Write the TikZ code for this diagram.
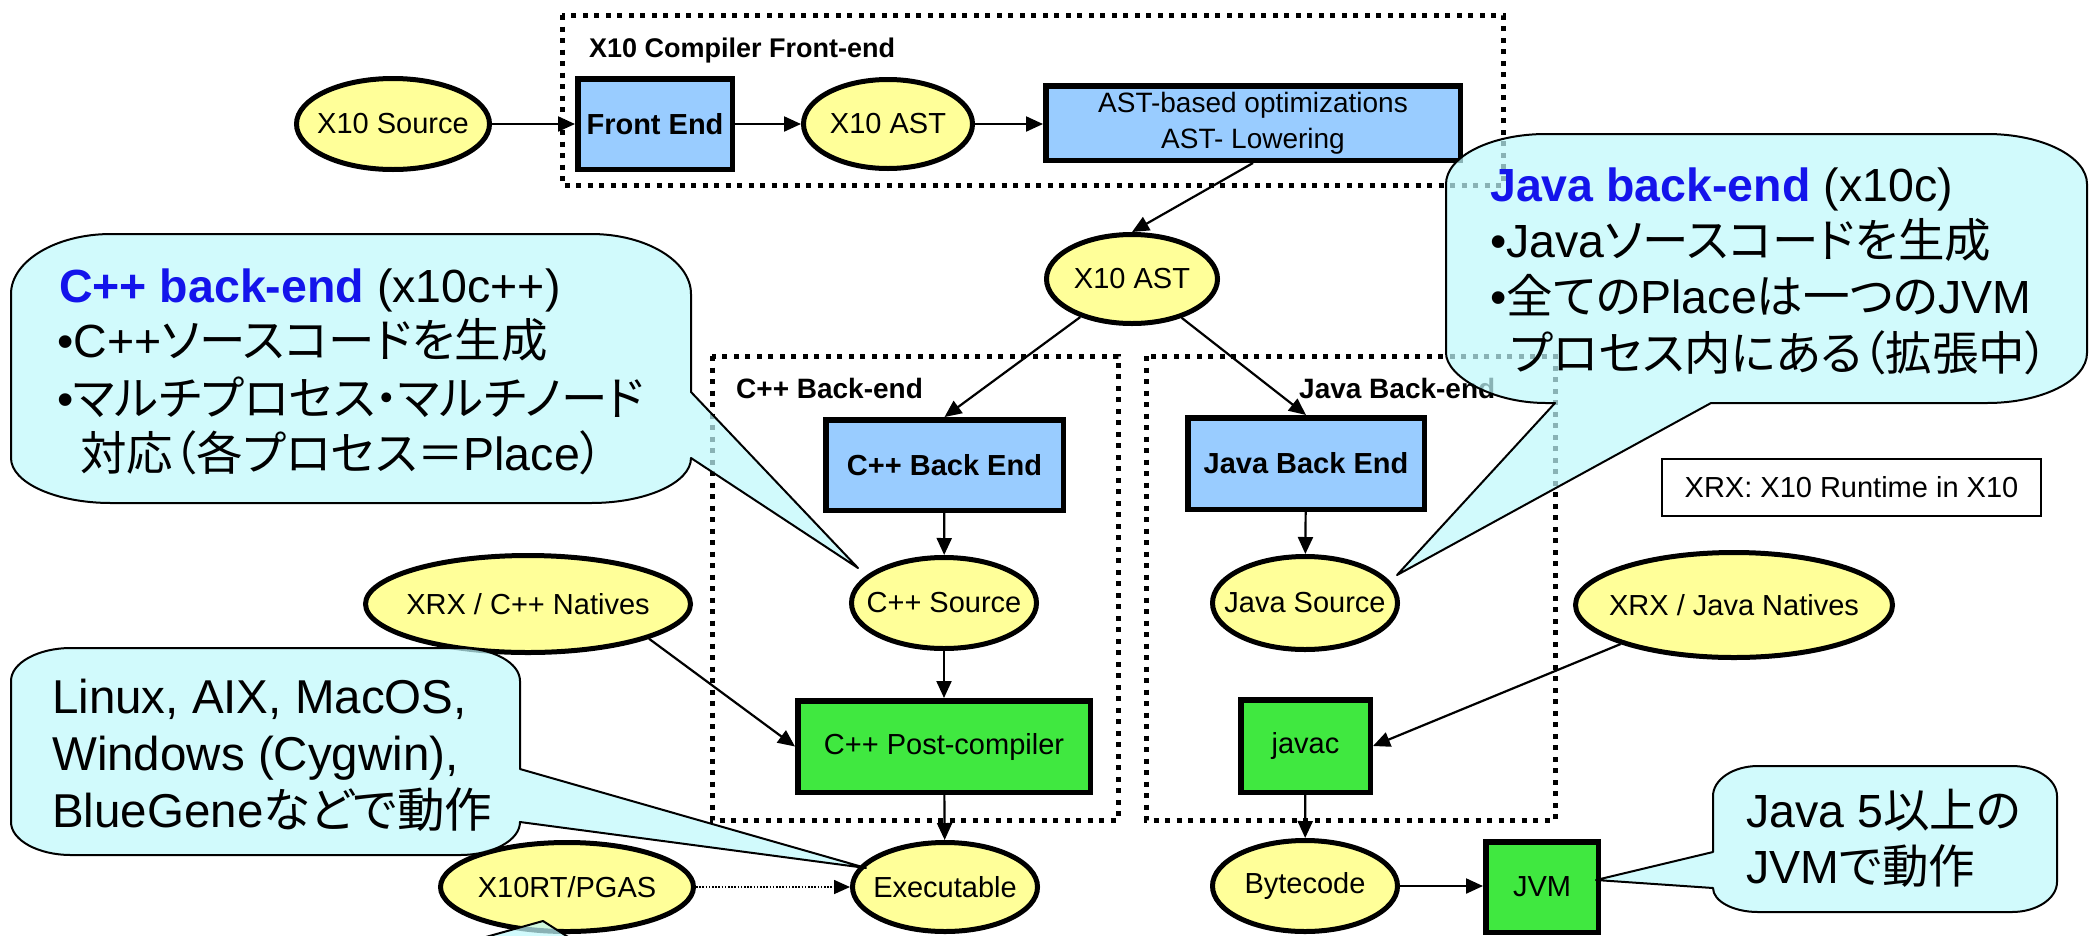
\documentclass[tikz,border=0pt]{standalone}
\usepackage{fontspec}
\setmainfont{Liberation Sans}
\newfontfamily\jpfont[RawFeature=+palt]{Noto Sans CJK JP}
\newcommand\jp[1]{{\jpfont #1}}
\newcommand\cz[1]{\makebox[0pt][c]{#1}}
\usetikzlibrary{shapes.geometric,arrows.meta}
\definecolor{ellfill}{RGB}{255,255,153}
\definecolor{bluefill}{RGB}{153,204,255}
\definecolor{greenfill}{RGB}{64,232,64}
\definecolor{callfill}{RGB}{191,248,251}
\definecolor{titleblue}{RGB}{20,20,235}
\begin{document}
\begin{tikzpicture}[x=1pt,y=-1pt,
  ell/.style={ellipse, draw, line width=5pt, fill=ellfill, inner sep=0pt,
    font=\fontsize{29}{34}\selectfont},
  bbox/.style={rectangle, draw, line width=5.5pt, fill=bluefill, inner sep=0pt,
    align=center, font=\bfseries\fontsize{29}{34}\selectfont},
  gbox/.style={rectangle, draw, line width=5.5pt, fill=greenfill, inner sep=0pt,
    font=\fontsize{29}{34}\selectfont},
  frame/.style={line width=5pt, dash pattern=on 5pt off 6.5pt},
  conn/.style={line width=2.2pt, -{Triangle[length=17pt,width=15pt]}},
  dotconn/.style={line width=1.6pt, dash pattern=on 1.6pt off 1.6pt,
    -{Triangle[length=16pt,width=14pt]}},
  callout/.style={draw, line width=2pt, fill=callfill, fill opacity=0.72, line join=round},
  ctext/.style={anchor=base west, inner sep=0pt, font=\fontsize{46.5}{56}\selectfont},
  grouplabel/.style={anchor=base west, inner sep=0pt, font=\bfseries\fontsize{27}{32}\selectfont},
]
\useasboundingbox (0,0) rectangle (2098,935);

% dotted group frames
\draw[frame] (562,15) rectangle (1503,185);
\draw[frame] (712,356) rectangle (1118,820);
\draw[frame] (1146,356) rectangle (1555,820);
\node[grouplabel] (lfront) at (589,57) {X10 Compiler Front-end};
\node[grouplabel, font=\bfseries\fontsize{28}{32}\selectfont] (lcpp) at (736,398) {C++ Back-end};
\node[grouplabel, font=\bfseries\fontsize{28}{32}\selectfont] (ljava) at (1299,398) {Java Back-end};

% front end
\node[ell, minimum width=193, minimum height=91] (src) at (393,124) {\cz{X10 Source}};
\node[bbox, minimum width=154.5, minimum height=90.5] (fe) at (655,124) {Front End};
\node[ell, minimum width=169, minimum height=89] (ast1) at (888,124) {\cz{X10 AST}};
\node[bbox, font=\fontsize{28}{36}\selectfont, minimum width=414.5, minimum height=74.5] (opt) at (1253,123)
  {AST-based optimizations\\AST- Lowering};

% back ends
\node[ell, minimum width=171, minimum height=89] (ast2) at (1132,279) {\cz{X10 AST}};
\node[bbox, minimum width=237.5, minimum height=90.5] (cppbe) at (944.5,465) {C++ Back End};
\node[bbox, minimum width=236.5, minimum height=91.5] (javabe) at (1306,463.5) {Java Back End};
\node[ell, minimum width=185, minimum height=91] (cppsrc) at (944,603) {\cz{C++ Source}};
\node[ell, minimum width=185, minimum height=93] (javasrc) at (1305,603) {\cz{Java Source}};
\node[ell, minimum width=325, minimum height=97] (natcpp) at (528,604) {\cz{XRX / C++ Natives}};
\node[ell, minimum width=317, minimum height=105] (natjava) at (1734,605) {\cz{XRX / Java Natives}};
\node[gbox, minimum width=292.5, minimum height=91.5] (cpppc) at (944,746.5) {C++ Post-compiler};
\node[gbox, minimum width=129.5, minimum height=92.5] (javac) at (1305.5,746) {javac};
\node[ell, minimum width=185, minimum height=89] (exe) at (945,887) {\cz{Executable}};
\node[ell, minimum width=185, minimum height=91] (byte) at (1305,886) {\cz{Bytecode}};
\node[gbox, minimum width=112.5, minimum height=90.5] (jvm) at (1542,887) {JVM};
\node[ell, minimum width=253, minimum height=89] (rt) at (567,887) {\cz{X10RT/PGAS}};
\node[draw, line width=2pt, inner sep=0pt, minimum width=379, minimum height=57,
  font=\fontsize{29}{34}\selectfont] (xrx) at (1851.5,487.5) {XRX: X10 Runtime in X10};

% connectors
\draw[conn] (src) -- (fe);
\draw[conn] (fe) -- (ast1);
\draw[conn] (ast1) -- (ast1 -| opt.west);
\draw[conn] (opt.south) -- (ast2.north);
\draw[conn] (ast2) -- (cppbe.north);
\draw[conn] (ast2) -- (javabe.north);
\draw[conn] (cppbe) -- (cppsrc);
\draw[conn] (javabe) -- (javasrc);
\draw[conn] (cppsrc) -- (cpppc);
\draw[conn] (natcpp.-16) -- (cpppc.west);
\draw[conn] (natjava.199) -- (javac.east);
\draw[conn] (cpppc) -- (exe);
\draw[conn] (javac) -- (byte);
\draw[conn] (byte) -- (byte -| jvm.west);
\draw[dotconn] (rt) -- (exe);

% callouts (rounded bodies with pointed wedges)
\draw[callout] (858,568) -- (691,458)
  .. controls (691,482.75) and (646,503) .. (591,503) -- (111,503)
  .. controls (56,503) and (11,482.75) .. (11,458) -- (11,294)
  .. controls (11,261) and (56,234) .. (111,234) -- (591,234)
  .. controls (646,234) and (691,261) .. (691,294) -- (691,392) -- cycle;
\draw[callout] (1397,575) -- (1555,403) -- (1546,403)
  .. controls (1491,403) and (1446,375.5) .. (1446,353) -- (1446,184)
  .. controls (1446,156.5) and (1491,134) .. (1546,134) -- (1987,134)
  .. controls (2042,134) and (2087,156.5) .. (2087,184) -- (2087,353)
  .. controls (2087,380.5) and (2042,403) .. (1987,403) -- (1711,403) -- cycle;
\draw[callout] (866,868) -- (520,822)
  .. controls (520,840.15) and (493,855) .. (460,855) -- (71,855)
  .. controls (38,855) and (11,840.15) .. (11,822) -- (11,681)
  .. controls (11,662.85) and (38,648) .. (71,648) -- (460,648)
  .. controls (493,648) and (520,662.85) .. (520,681) -- (520,769) -- cycle;
\draw[callout] (1596,880) -- (1713,852) -- (1713,796)
  .. controls (1713,779.5) and (1733.25,766) .. (1758,766) -- (2012,766)
  .. controls (2036.75,766) and (2057,779.5) .. (2057,796) -- (2057,882)
  .. controls (2057,898.5) and (2036.75,912) .. (2012,912) -- (1758,912)
  .. controls (1733.25,912) and (1713,901.2) .. (1713,888) -- cycle;
\draw[callout] (468,942) -- (543,921) -- (576,942);

% callout texts
\node[ctext] (cppt1) at (59,302) {{\color{titleblue}\bfseries C++ back-end} (x10c++)};
\node[ctext] (cppt2) at (57,357) {•C++\jp{ソースコードを生成}};
\node[ctext] (cppt3) at (57,415) {•\jp{マルチプロセス・マルチノード}};
\node[ctext] (cppt4) at (80,470) {\jp{対応（各プロセス＝}Place\jp{）}};

\node[ctext] (javat1) at (1490,201) {{\color{titleblue}\bfseries Java back-end} (x10c)};
\node[ctext] (javat2) at (1490,257) {•Java\jp{ソースコードを生成}};
\node[ctext] (javat3) at (1490,313) {•\jp{全ての}Place\jp{は一つの}JVM};
\node[ctext] (javat4) at (1510,370) {\jp{プロセス内にある（拡張中）}};

\node[ctext, font=\fontsize{47.5}{56}\selectfont] (ost1) at (52,713) {Linux, AIX, MacOS,};
\node[ctext, font=\fontsize{47.5}{56}\selectfont] (ost2) at (52,770) {Windows (Cygwin),};
\node[ctext, font=\fontsize{47.5}{56}\selectfont] (ost3) at (52,827) {BlueGene\jp{などで動作}};

\node[ctext] (jvmt1) at (1746,827) {Java 5\jp{以上の}};
\node[ctext] (jvmt2) at (1746,883) {JVM\jp{で動作}};
\end{tikzpicture}
\end{document}
